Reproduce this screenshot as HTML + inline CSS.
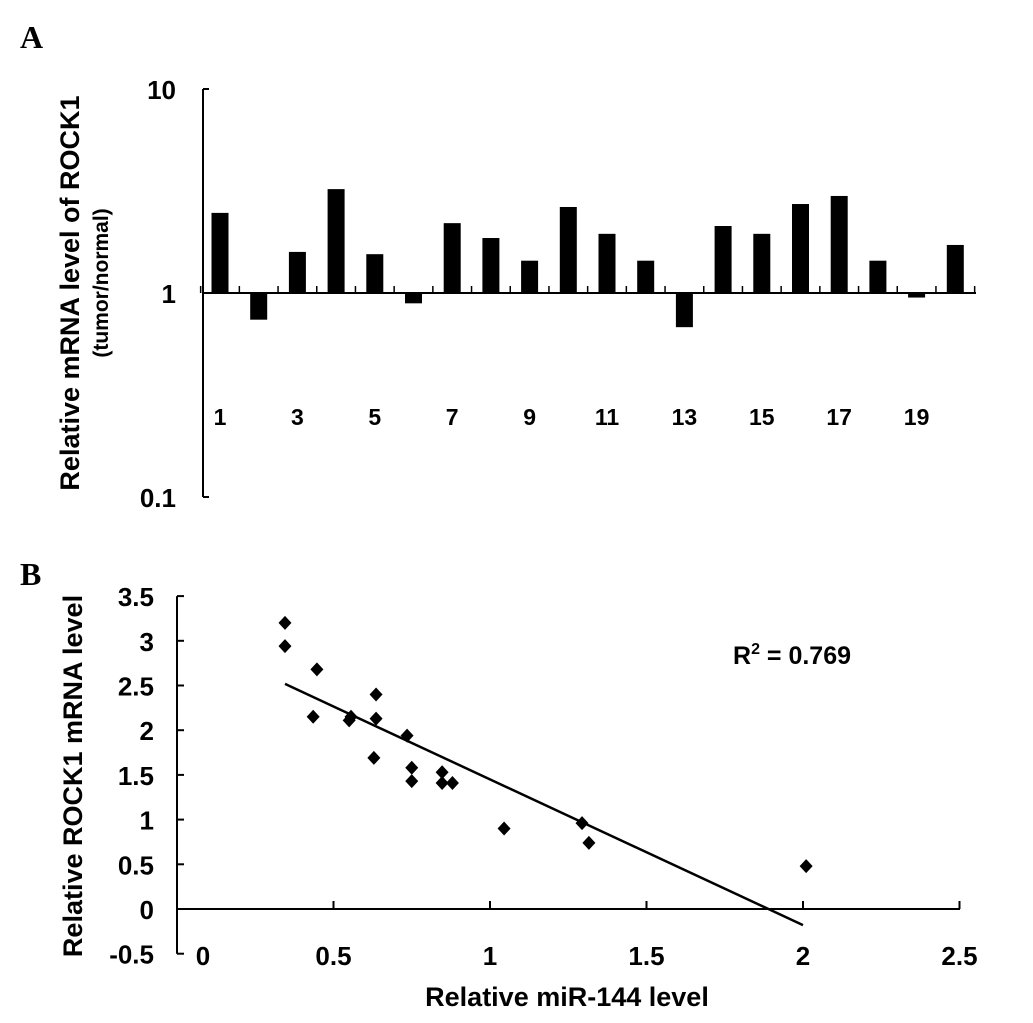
<!DOCTYPE html>
<html><head><meta charset="utf-8"><style>
body{margin:0;background:#fff;}
svg text{font-family:"Liberation Sans",Arial,sans-serif;font-weight:bold;fill:#000;}
</style></head><body>
<svg width="1033" height="1018" xmlns="http://www.w3.org/2000/svg" id="fig">
<text x="20" y="48" style="font-family:'Liberation Serif',serif;font-size:32px">A</text>
<text x="20" y="585" style="font-family:'Liberation Serif',serif;font-size:32px">B</text>
<g id="pa"></g>
<g id="pb"></g>
</svg>
<script>
const ns="http://www.w3.org/2000/svg";
const barCats=[1,2,3,4,5,6,7,8,9,10,11,12,13,14,15,16,17,18,19,20];
const barVals=[2.47,0.74,1.59,3.23,1.55,0.89,2.2,1.86,1.44,2.64,1.95,1.44,0.68,2.13,1.95,2.73,2.99,1.44,0.95,1.72];
const aTicks=[10,1,0.1];
const aTickLabels=["10","1","0.1"];
const scX=[0.345,0.345,0.447,0.636,0.435,0.55,0.556,0.636,0.735,0.629,0.75,0.75,0.847,0.847,0.88,1.045,1.294,1.316,2.01];
const scY=[3.2,2.94,2.68,2.4,2.15,2.11,2.15,2.13,1.94,1.69,1.58,1.43,1.53,1.41,1.41,0.9,0.96,0.74,0.48];
const bYTicks=[3.5,3,2.5,2,1.5,1,0.5,0,-0.5];
const bYLabels=["3.5","3","2.5","2","1.5","1","0.5","0","-0.5"];
const bXTicks=[0,0.5,1,1.5,2,2.5];
const bXLabels=["0","0.5","1","1.5","2","2.5"];
const fitSlope=-1.63, fitIntercept=3.08, fitX=[0.345,2.0];

function mk(p,t,a){const e=document.createElementNS(ns,t);for(const k in a)e.setAttribute(k,a[k]);p.appendChild(e);return e;}
// Panel A
const pa=document.getElementById('pa');
const ay=v=>293-204*Math.log10(v);
const ax=i=>220+i*38.7;
mk(pa,'line',{x1:203,y1:ay(10),x2:203,y2:ay(0.1),stroke:'#000','stroke-width':2});
mk(pa,'line',{x1:203,y1:ay(1),x2:976,y2:ay(1),stroke:'#000','stroke-width':2});
aTicks.forEach((t,i)=>{
 mk(pa,'line',{x1:203,y1:ay(t),x2:209,y2:ay(t),stroke:'#000','stroke-width':2});
 const tx=mk(pa,'text',{x:176,y:ay(t)+10,'text-anchor':'end','font-size':26});tx.textContent=aTickLabels[i];
 
 
});
for(let i=0;i<=barCats.length;i++){
 mk(pa,'line',{x1:ax(i)-19.35,y1:ay(1),x2:ax(i)-19.35,y2:ay(1)-7,stroke:'#000','stroke-width':1.5});
}
barCats.forEach((c,i)=>{
 const v=barVals[i],y1=ay(v),y0=ay(1);
 const r=mk(pa,'rect',{x:ax(i)-8.5,y:Math.min(y0,y1),width:17,height:Math.abs(y1-y0),fill:'#000'});
 
 
 if(c%2===1){const t=mk(pa,'text',{x:ax(i),y:425,'text-anchor':'middle','font-size':23});t.textContent=c;
 
 }
});
let t1=mk(pa,'text',{x:0,y:0,'text-anchor':'middle','font-size':27,transform:'translate(79,293) rotate(-90)'});t1.textContent='Relative mRNA level of ROCK1';


let t2=mk(pa,'text',{x:0,y:0,'text-anchor':'middle','font-size':21,transform:'translate(108,283) rotate(-90)'});t2.textContent='(tumor/normal)';


// Panel B
const pb=document.getElementById('pb');
const bx=v=>177+v*313;
const by=v=>909-v*89.4;
mk(pb,'line',{x1:177,y1:by(3.5),x2:177,y2:by(-0.5),stroke:'#000','stroke-width':2});
mk(pb,'line',{x1:177,y1:by(0),x2:960,y2:by(0),stroke:'#000','stroke-width':2});
bYTicks.forEach((t,i)=>{
 mk(pb,'line',{x1:177,y1:by(t),x2:184,y2:by(t),stroke:'#000','stroke-width':2});
 const tx=mk(pb,'text',{x:154,y:by(t)+10,'text-anchor':'end','font-size':26});tx.textContent=bYLabels[i];
 
 
});
bXTicks.forEach((t,i)=>{
 if(t>0)mk(pb,'line',{x1:bx(t),y1:by(0),x2:bx(t),y2:by(0)-8,stroke:'#000','stroke-width':2});
 const tx=mk(pb,'text',{x:t===0?203:bx(t),y:965,'text-anchor':'middle','font-size':26});tx.textContent=bXLabels[i];
 
 
});
mk(pb,'line',{x1:bx(fitX[0]),y1:by(fitSlope*fitX[0]+fitIntercept),x2:bx(fitX[1]),y2:by(fitSlope*fitX[1]+fitIntercept),stroke:'#000','stroke-width':2.5});
scX.forEach((x,i)=>{
 const cx=bx(x),cy=by(scY[i]);
 const p=mk(pb,'polygon',{points:`${cx},${cy-7} ${cx+6.5},${cy} ${cx},${cy+7} ${cx-6.5},${cy}`,fill:'#000'});
 
 
});
let r2=mk(pb,'text',{x:733,y:664,'font-size':25});r2.innerHTML='R<tspan dy="-10" font-size="16">2</tspan><tspan dy="10"> = 0.769</tspan>';


let xt=mk(pb,'text',{x:567,y:1006,'text-anchor':'middle','font-size':27});xt.textContent='Relative miR-144 level';


let yt=mk(pb,'text',{x:0,y:0,'text-anchor':'middle','font-size':27,transform:'translate(82,776) rotate(-90)'});yt.textContent='Relative ROCK1 mRNA level';


</script>
</body></html>
